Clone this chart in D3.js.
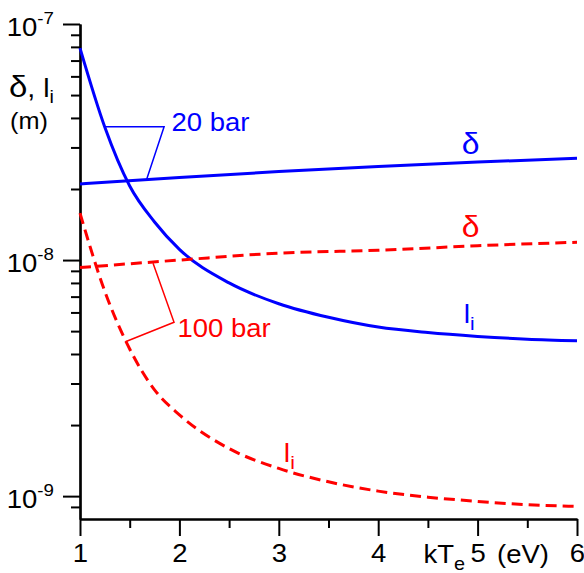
<!DOCTYPE html>
<html>
<head>
<meta charset="utf-8">
<script src="https://cdn.jsdelivr.net/npm/d3@7"></script>
<style>
  body { margin: 0; background: #fff; }
  text { font-family: "Liberation Sans", Arial, Helvetica, sans-serif; }
</style>
</head>
<body>
<div id="chart"></div>
<script>
// kTe grid (eV) for the mean free path curves
const kTe = [1, 1.25, 1.5, 1.75, 2, 2.5, 3, 3.5, 4, 4.5, 5, 5.5, 6];
// ion mean free path l_i (m), 20 bar and 100 bar
const li20  = [7.9e-8, 3.65e-8, 2.06e-8, 1.45e-8, 1.11e-8, 8.0e-9, 6.53e-9, 5.72e-9, 5.2e-9, 4.93e-9, 4.75e-9, 4.62e-9, 4.55e-9];
const li100 = [1.58e-8, 7.36e-9, 4.2e-9, 2.82e-9, 2.21e-9, 1.59e-9, 1.31e-9, 1.15e-9, 1.05e-9, 9.9e-10, 9.5e-10, 9.2e-10, 9.05e-10];
// sheath thickness delta (m)
const kTeDelta = [1, 2, 3, 4, 5, 6];
const delta20  = [2.1e-8, 2.24e-8, 2.37e-8, 2.49e-8, 2.6e-8, 2.7e-8];
const delta100 = [9.3e-9, 1.0e-8, 1.07e-8, 1.1e-8, 1.15e-8, 1.19e-8];
// leader lines for the pressure labels
const note20  = [[1.25, 3.67e-8], [1.846, 3.67e-8], [1.671, 2.2e-8]];
const note100 = [[1.735, 9.7e-9], [1.946, 5.45e-9], [1.457, 4.51e-9]];
// ticks
const xMajor = [1, 2, 3, 4, 5, 6];
const xMinor = [1.5, 2.5, 3.5, 4.5, 5.5];
const yMajor = [1e-7, 1e-8, 1e-9];
const yExp = ["-7", "-8", "-9"];
const yMinor = [9e-8, 8e-8, 7e-8, 6e-8, 5e-8, 4e-8, 3e-8, 2e-8,
                9e-9, 8e-9, 7e-9, 6e-9, 5e-9, 4e-9, 3e-9, 2e-9, 9e-10];

const W = 584, H = 573;
const BLUE = "#0000ff", RED = "#ff0000";
const STRETCH = 1.1;   // glyphs in the original are a bit wide

const svg = d3.select("#chart").append("svg")
  .attr("width", W).attr("height", H);

const x = d3.scaleLinear().domain([1, 6]).range([80, 577]);
const y = d3.scaleLog().domain([8e-10, 1e-7]).range([519, 24]);

// text helper: parts = [[string, size, dy], ...]
function label(px, py, parts, color, anchor) {
  const t = svg.append("text")
    .attr("transform", "translate(" + px + "," + py + ") scale(" + STRETCH + ",1)")
    .attr("text-anchor", anchor || "start")
    .attr("fill", color || "#000");
  parts.forEach(function(p) {
    t.append("tspan").attr("font-size", p[1]).attr("dy", p[2] || 0).text(p[0]);
  });
  return t;
}

// x axis
const gxMinor = svg.append("g").attr("transform", "translate(0,519)")
  .call(d3.axisBottom(x).tickValues(xMinor).tickSize(9).tickSizeOuter(0).tickFormat(""));
const gx = svg.append("g").attr("transform", "translate(0,519)")
  .call(d3.axisBottom(x).tickValues(xMajor).tickSize(17).tickSizeOuter(0)
    .tickPadding(8).tickFormat(d3.format("d")));
gx.selectAll("text")
  .attr("font-size", 25).attr("fill", "#000")
  .attr("font-family", "Liberation Sans, Arial, sans-serif")
  .attr("transform", "scale(" + STRETCH + ",1)");

// y axis
const gyMinor = svg.append("g").attr("transform", "translate(80,0)")
  .call(d3.axisLeft(y).tickValues(yMinor).tickSize(9).tickSizeOuter(0).tickFormat(""));
const gy = svg.append("g").attr("transform", "translate(80,0)")
  .call(d3.axisLeft(y).tickValues(yMajor).tickSize(17).tickSizeOuter(0).tickFormat(""));

[gxMinor, gx, gyMinor, gy].forEach(function(g) {
  g.selectAll("line").attr("stroke", "#000").attr("stroke-width", 2);
  g.select(".domain").attr("stroke", "#000").attr("stroke-width", 2.2);
});

yMajor.forEach(function(v, i) {
  label(54, y(v) + 12, [["10", 25], [yExp[i], 17, -12]], "#000", "end");
});

// axis titles
label(9, 97, [["\u03b4", 30], [", l", 26], ["i", 18, 6]]);
label(10, 129, [["(m)", 23]]);
label(465, 563, [["kT", 25], ["e", 18, 7]], "#000", "end");
label(497, 563, [["(eV)", 25]]);

// curves
const curve = d3.line()
  .x(function(d) { return x(d[0]); })
  .y(function(d) { return y(d[1]); })
  .curve(d3.curveMonotoneX);
const straight = d3.line()
  .x(function(d) { return x(d[0]); })
  .y(function(d) { return y(d[1]); });

function series(xs, ys, color, dashed) {
  svg.append("path")
    .datum(xs.map(function(v, i) { return [v, ys[i]]; }))
    .attr("d", curve)
    .attr("fill", "none")
    .attr("stroke", color)
    .attr("stroke-width", 3)
    .attr("stroke-dasharray", dashed ? "11,6" : null);
}

series(kTe, li20, BLUE, false);
series(kTeDelta, delta20, BLUE, false);
series(kTe, li100, RED, true);
series(kTeDelta, delta100, RED, true);

// pressure annotations
svg.append("path").datum(note20).attr("d", straight)
  .attr("fill", "none").attr("stroke", BLUE).attr("stroke-width", 1.5);
svg.append("path").datum(note100).attr("d", straight)
  .attr("fill", "none").attr("stroke", RED).attr("stroke-width", 1.5);

label(x(1.92), y(3.52e-8), [["20 bar", 25]], BLUE);
label(x(1.98), y(4.72e-9), [["100 bar", 25]], RED);

// curve labels
label(x(4.93), y(2.81e-8), [["\u03b4", 29]], BLUE, "middle");
label(x(4.93), y(1.25e-8), [["\u03b4", 29]], RED, "middle");
label(x(4.86), y(5.4e-9), [["l", 26], ["i", 19, 7]], BLUE);
label(x(3.05), y(1.4e-9), [["l", 26], ["i", 19, 7]], RED);
</script>
</body>
</html>
